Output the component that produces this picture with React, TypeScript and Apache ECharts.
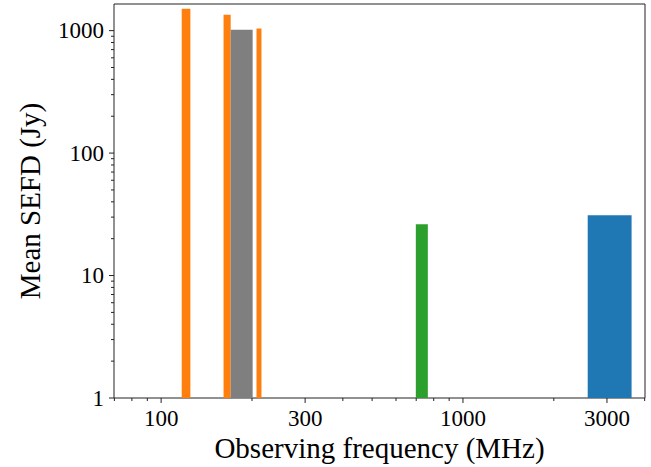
import React, { useEffect, useRef } from "react";
import * as echarts from "echarts";

// Bands: lower/upper frequency edges (MHz) and mean SEFD (Jy)
const orangeLow = [117, 161, 207];
const orangeHigh = [125, 170, 215];
const orangeSefd = [1510, 1350, 1040];

const grayLow = [170];
const grayHigh = [201];
const graySefd = [1015];

const greenLow = [698];
const greenHigh = [765];
const greenSefd = [26.2];

const blueLow = [2590];
const blueHigh = [3620];
const blueSefd = [31];

const xMajorTicks = [100, 300, 1000, 3000];
const xTickLabels = ["100", "300", "1000", "3000"];
const xMinorTicks = [70, 80, 90, 200, 400, 500, 600, 700, 800, 900, 2000, 4000];

const yMajorTicks = [1, 10, 100, 1000];
const yTickLabels = ["1", "10", "100", "1000"];
const yMinorTicks = [2, 3, 4, 5, 6, 7, 8, 9, 20, 30, 40, 50, 60, 70, 80, 90, 200, 300, 400, 500, 600, 700, 800, 900];

const X_MIN = 69.8;
const X_MAX = 4010;
const Y_MIN = 1;
const Y_MAX = 1650;

const FONT = "'Liberation Serif', 'DejaVu Serif', serif";
const AXIS_COLOR = "#222";

function barSeries(lows: number[], highs: number[], vals: number[], color: string) {
  return {
    type: "custom",
    clip: true,
    encode: { x: [0, 1], y: 2 },
    data: lows.map((l, i) => [l, highs[i], vals[i]]),
    renderItem: (_p: any, api: any) => {
      const p0 = api.coord([api.value(0), api.value(2)]);
      const p1 = api.coord([api.value(1), Y_MIN]);
      return {
        type: "rect",
        shape: { x: p0[0], y: p0[1], width: p1[0] - p0[0], height: p1[1] - p0[1] },
        style: { fill: color },
      };
    },
  };
}

export default function App() {
  const ref = useRef<HTMLDivElement>(null);
  useEffect(() => {
    document.body.style.margin = "0";
    const chart = echarts.init(ref.current!, null, { renderer: "svg" });
    const xTickSeries = (ticks: number[], len: number, labels?: string[]) => ({
      type: "custom",
      clip: false,
      z: 10,
      encode: { x: 0, y: 1 },
      data: ticks.map((t) => [t, Y_MIN]),
      renderItem: (p: any, api: any) => {
        const c = api.coord([api.value(0), Y_MIN]);
        const children: any[] = [
          {
            type: "line",
            shape: { x1: c[0], y1: c[1], x2: c[0], y2: c[1] + len },
            style: { stroke: AXIS_COLOR, lineWidth: 1 },
          },
        ];
        if (labels) {
          children.push({
            type: "text",
            style: {
              text: labels[p.dataIndex],
              x: c[0],
              y: c[1] + 9,
              align: "center",
              verticalAlign: "top",
              font: `23px ${FONT}`,
              fill: "#000",
            },
          });
        }
        return { type: "group", children };
      },
    });
    const yTickSeries = (ticks: number[], len: number, labels?: string[]) => ({
      type: "custom",
      clip: false,
      z: 10,
      encode: { x: 0, y: 1 },
      data: ticks.map((t) => [X_MIN, t]),
      renderItem: (p: any, api: any) => {
        const c = api.coord([X_MIN, api.value(1)]);
        const children: any[] = [
          {
            type: "line",
            shape: { x1: c[0] - len, y1: c[1], x2: c[0], y2: c[1] },
            style: { stroke: AXIS_COLOR, lineWidth: 1 },
          },
        ];
        if (labels) {
          children.push({
            type: "text",
            style: {
              text: labels[p.dataIndex],
              x: c[0] - 10,
              y: c[1],
              align: "right",
              verticalAlign: "middle",
              font: `23px ${FONT}`,
              fill: "#000",
            },
          });
        }
        return { type: "group", children };
      },
    });

    chart.setOption({
      animation: false,
      backgroundColor: "#fff",
      grid: {
        left: 114,
        right: 6,
        top: 4,
        bottom: 68,
        show: true,
        borderColor: AXIS_COLOR,
        borderWidth: 1,
        backgroundColor: "transparent",
      },
      xAxis: {
        type: "log",
        logBase: 10,
        min: X_MIN,
        max: X_MAX,
        axisLine: { show: false },
        axisTick: { show: false },
        axisLabel: { show: false },
        splitLine: { show: false },
        minorTick: { show: false },
        name: "Observing frequency (MHz)",
        nameLocation: "middle",
        nameGap: 35,
        nameTextStyle: { fontFamily: FONT, fontSize: 29, color: "#000" },
      },
      yAxis: {
        type: "log",
        logBase: 10,
        min: Y_MIN,
        max: Y_MAX,
        axisLine: { show: false },
        axisTick: { show: false },
        axisLabel: { show: false },
        splitLine: { show: false },
        minorTick: { show: false },
        name: "Mean SEFD (Jy)",
        nameLocation: "middle",
        nameGap: 70,
        nameRotate: 90,
        nameTextStyle: { fontFamily: FONT, fontSize: 29, color: "#000" },
      },
      series: [
        barSeries(blueLow, blueHigh, blueSefd, "#1f77b4"),
        barSeries(orangeLow, orangeHigh, orangeSefd, "#ff7f0e"),
        barSeries(greenLow, greenHigh, greenSefd, "#2ca02c"),
        barSeries(grayLow, grayHigh, graySefd, "#7f7f7f"),
        xTickSeries(xMajorTicks, 5, xTickLabels),
        xTickSeries(xMinorTicks, 3),
        yTickSeries(yMajorTicks, 5, yTickLabels),
        yTickSeries(yMinorTicks, 3),
      ],
    });
    return () => chart.dispose();
  }, []);
  return <div ref={ref} style={{ width: 651, height: 467 }} />;
}
